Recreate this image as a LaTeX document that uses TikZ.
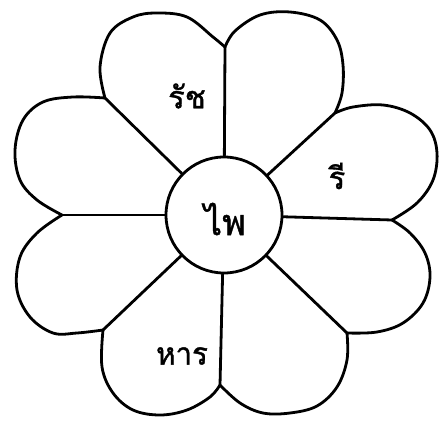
\documentclass[tikz,border=0pt]{standalone}
\usepackage{fontspec}
\newfontfamily\thaifont[Script=Thai,FakeBold=1.2]{Loma}
\begin{document}
\begin{tikzpicture}[x=1pt,y=-1pt,
  ink/.style={line width=2.8pt,line cap=round,line join=round,black},
  petal/.style={ink},
  lbl/.style={font=\thaifont\fontsize{31}{31}\selectfont,inner sep=0pt},
  hub/.style={circle,draw,ink,minimum size=116pt,inner sep=0pt}]
\useasboundingbox (0,0) rectangle (444,425);
\node[hub] (c) at (224,215) {};
\node[font=\thaifont\fontsize{36}{36}\selectfont,inner sep=0pt] (hubtxt) at (225,219) {ไพ};
% junctions
\coordinate (jt) at (225,47);
\coordinate (jur) at (335,113);
\coordinate (jr) at (392,220);
\coordinate (jlr) at (347,333);
\coordinate (jb) at (220,385);
\coordinate (jll) at (103,330);
\coordinate (jl) at (62,215);
\coordinate (jul) at (105,98);
% radial lines
\foreach \j in {jt,jur,jr,jlr,jb,jll,jl,jul} \draw[ink] (c) -- (\j);
% petal outlines
\draw[petal] plot[smooth,tension=0.6] coordinates {(jul) (100,67) (110,33) (133,17) (157,13) (187,17) (213,37) (jt)};
\draw[petal] plot[smooth,tension=0.6] coordinates {(jt) (235,31) (260,15) (290,12) (320,20) (337,40) (343,65) (342,93) (jur)};
\draw[petal] plot[smooth,tension=0.6] coordinates {(jur) (353,107) (383,105) (410,113) (430,130) (437,153) (433,180) (417,203) (jr)};
\draw[petal] plot[smooth,tension=0.6] coordinates {(jr) (410,233) (425,253) (430,277) (423,303) (403,323) (377,332) (jlr)};
\draw[petal] plot[smooth,tension=0.6] coordinates {(jlr) (347,360) (337,387) (317,406) (290,413) (263,413) (240,403) (jb)};
\draw[petal] plot[smooth,tension=0.6] coordinates {(jb) (210,397) (187,410) (160,415) (133,410) (113,393) (102,367) (jll)};
\draw[petal] plot[smooth,tension=0.6] coordinates {(jll) (77,333) (53,333) (30,317) (17,290) (20,257) (37,233) (jl)};
\draw[petal] plot[smooth,tension=0.6] coordinates {(jl) (37,200) (20,180) (15,150) (23,120) (43,102) (73,97) (jul)};
% labels
\node[lbl] (l1) at (187,96) {รัช};
\node[lbl] (l2) at (337,176) {รี};
\node[lbl,xscale=0.95] (l3) at (182,356) {หาร};
\end{tikzpicture}
\end{document}
